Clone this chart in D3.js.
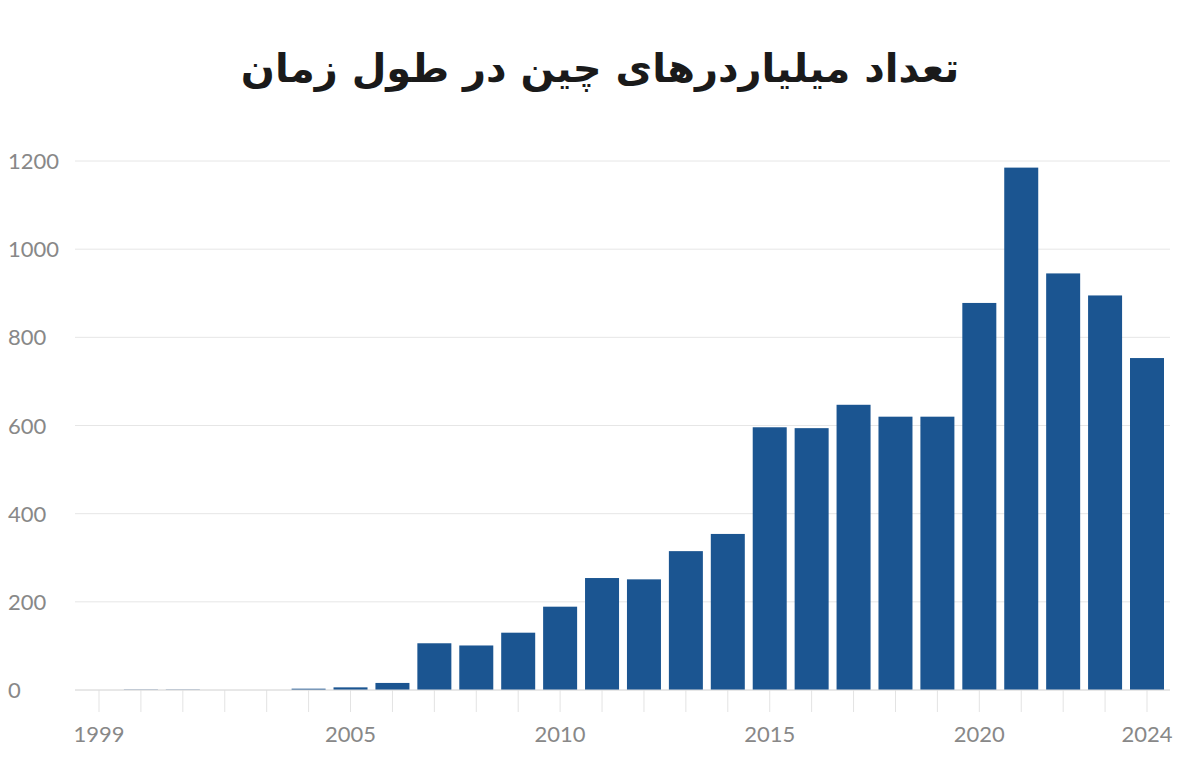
<!DOCTYPE html>
<html><head><meta charset="utf-8">
<script src="https://cdn.jsdelivr.net/npm/d3@7"></script>
<style>body{margin:0;background:#fff}svg{display:block}</style>
</head><body>
<script>
// data
const years = d3.range(1999, 2025)
const billionaires = [0, 2, 2, 0, 0, 3, 6, 16, 106, 101, 130, 189, 254, 251, 315, 354,
  596, 594, 647, 620, 620, 878, 1185, 945, 895, 753]
const yTicks = [0, 200, 400, 600, 800, 1000, 1200]
const xLabels = [1999, 2005, 2010, 2015, 2020, 2024]
const title = 'تعداد میلیاردرهای چین در طول زمان'

const W = 1200, H = 782
const svg = d3.select('body').append('svg').attr('width', W).attr('height', H)

const x = d3.scaleLinear().domain([1999, 2024]).range([99, 1147])
const y = d3.scaleLinear().domain([0, 1200]).range([690, 161])
const bw = 34

svg.append('text').attr('x', 600).attr('y', 82).attr('text-anchor', 'middle')
  .attr('direction', 'rtl')
  .style('font-family', '"DejaVu Sans", sans-serif').style('font-weight', 'bold')
  .style('font-size', '40px').attr('fill', '#1a1a1a').text(title)

// grid
svg.selectAll('.grid').data(yTicks).enter().append('line')
  .attr('x1', 75).attr('x2', 1170)
  .attr('y1', d => y(d)).attr('y2', d => y(d))
  .attr('stroke', '#e6e6e6').attr('stroke-width', 1)

svg.selectAll('.ylab').data(yTicks).enter().append('text')
  .attr('x', 8).attr('y', d => y(d) + 8)
  .style('font-family', 'Lato, sans-serif').style('font-size', '22px')
  .attr('fill', '#888').text(d => d)

// year ticks
svg.selectAll('.xt').data(years).enter().append('line')
  .attr('x1', d => x(d)).attr('x2', d => x(d)).attr('y1', 690).attr('y2', 712)
  .attr('stroke', '#e3e3e3')

svg.selectAll('.bar').data(years).enter().append('rect')
  .attr('x', d => x(d) - bw / 2).attr('width', bw)
  .attr('y', (d, i) => y(billionaires[i]))
  .attr('height', (d, i) => y(0) - y(billionaires[i]))
  .attr('fill', (d, i) => billionaires[i] < 3 ? '#9fb2c8' : '#1b5591')

svg.append('line').attr('x1', 75).attr('x2', 1170).attr('y1', 690).attr('y2', 690)
  .attr('stroke', '#dcdcdc')

svg.selectAll('.xlab').data(xLabels).enter().append('text')
  .attr('x', d => x(d)).attr('y', 742).attr('text-anchor', 'middle')
  .style('font-family', 'Lato, sans-serif').style('font-size', '22px')
  .attr('fill', '#888').text(d => d)
</script>
</body></html>
